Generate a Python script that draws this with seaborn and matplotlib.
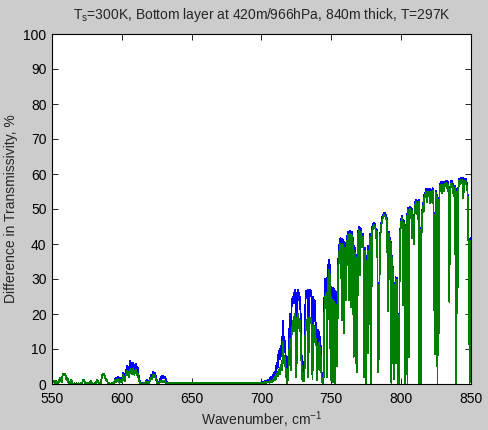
import numpy as np
import pandas as pd
import matplotlib
matplotlib.use("Agg")
import matplotlib.pyplot as plt
import seaborn as sns

# wavenumber grid, 0.5 cm-1 steps
wn = np.arange(550, 850.25, 0.5)

# green series (drawn on top), one row per 10 cm-1
green = [
    0.3, 0.8, 1.0, 0.6, 0.2, 0.5, 0.9, 0.4, 0.2, 0.3, 0.6, 1.5, 1.8, 1.0, 0.6, 2.2, 3.0, 2.8, 2.9, 2.6,  # 550
    2.2, 1.0, 1.8, 0.8, 0.3, 0.2, 0.5, 1.2, 0.9, 0.3, 0.1, 0.1, 0.2, 0.1, 0.1, 0.2, 0.1, 0.1, 0.2, 0.1,  # 560
    0.1, 0.2, 0.3, 0.2, 0.8, 1.2, 1.0, 0.4, 0.1, 0.1, 0.2, 0.1, 0.2, 0.3, 0.2, 0.6, 0.8, 0.3, 0.1, 0.1,  # 570
    0.1, 0.2, 0.3, 0.2, 0.9, 1.1, 0.5, 0.2, 0.1, 0.2, 0.4, 1.5, 2.5, 2.9, 2.6, 2.8, 2.0, 1.0, 1.5, 0.8,  # 580
    0.3, 0.2, 0.2, 0.1, 0.1, 0.2, 0.3, 0.2, 0.5, 0.2, 0.8, 1.2, 0.5, 1.0, 1.5, 0.8, 0.4, 1.2, 0.8, 0.5,  # 590
    0.6, 1.5, 2.5, 1.2, 0.8, 2.0, 3.0, 2.5, 3.8, 3.2, 2.0, 3.5, 4.2, 3.6, 2.8, 3.9, 4.4, 3.5, 2.6, 3.8,  # 600
    4.0, 3.2, 2.5, 3.0, 1.5, 0.8, 0.4, 0.2, 0.1, 0.1, 0.1, 0.1, 0.2, 0.1, 0.3, 0.5, 0.7, 0.4, 0.2, 0.3,  # 610
    0.8, 1.2, 1.8, 1.3, 2.0, 2.6, 2.2, 2.5, 1.8, 1.2, 0.6, 0.3, 0.2, 0.2, 0.4, 0.6, 0.8, 0.5, 0.7, 0.8,  # 620
    0.9, 0.6, 0.8, 0.4, 0.3, 0.2, 0.2, 0.3, 0.2, 0.2, 0.3, 0.2, 0.2, 0.3, 0.2, 0.2, 0.2, 0.3, 0.2, 0.2,  # 630
    0.3, 0.2, 0.3, 0.2, 0.3, 0.3, 0.2, 0.3, 0.2, 0.3, 0.3, 0.2, 0.3, 0.2, 0.3, 0.3, 0.2, 0.3, 0.2, 0.3,  # 640
    0.3, 0.2, 0.3, 0.3, 0.2, 0.3, 0.2, 0.3, 0.3, 0.2, 0.3, 0.2, 0.3, 0.3, 0.2, 0.3, 0.2, 0.3, 0.3, 0.2,  # 650
    0.3, 0.3, 0.2, 0.4, 0.3, 0.2, 0.3, 0.4, 0.3, 0.2, 0.3, 0.3, 0.2, 0.3, 0.2, 0.3, 0.3, 0.2, 0.3, 0.2,  # 660
    0.2, 0.3, 0.3, 0.2, 0.3, 0.2, 0.3, 0.3, 0.2, 0.3, 0.3, 0.2, 0.3, 0.2, 0.3, 0.3, 0.2, 0.3, 0.2, 0.3,  # 670
    0.3, 0.2, 0.3, 0.3, 0.2, 0.3, 0.2, 0.4, 0.3, 0.2, 0.3, 0.2, 0.3, 0.3, 0.2, 0.4, 0.3, 0.2, 0.3, 0.3,  # 680
    0.3, 0.2, 0.3, 0.4, 0.3, 0.2, 0.3, 0.3, 0.2, 0.4, 0.3, 0.3, 0.2, 0.3, 0.4, 0.3, 0.2, 0.3, 0.4, 0.3,  # 690
    0.3, 0.4, 0.4, 0.3, 0.3, 0.5, 0.4, 0.3, 0.5, 0.4, 0.6, 0.4, 0.8, 0.5, 1.0, 0.6, 1.2, 0.8, 1.5, 2.0,  # 700
    1.2, 2.5, 3.0, 2.2, 3.5, 4.0, 2.8, 4.5, 5.5, 4.0, 7.0, 12.0, 6.0, 7.8, 5.5, 3.0, 1.0, 0.3, 2.0, 6.0,  # 710
    10.0, 13.0, 4.0, 14.0, 16.0, 18.0, 15.0, 19.0, 20.0, 17.0, 2.0, 18.0, 20.0, 19.0, 16.0, 18.0, 14.0, 8.0, 1.5, 3.0,  # 720
    0.8, 1.0, 6.0, 15.0, 18.0, 17.0, 19.0, 2.0, 18.0, 19.0, 17.5, 18.5, 16.0, 1.5, 17.0, 15.0, 16.5, 12.0, 13.0, 10.0,  # 730
    1.0, 11.0, 9.0, 12.0, 4.0, 8.0, 2.0, 0.5, 0.3, 2.0, 20.0, 25.0, 24.0, 26.0, 2.0, 28.0, 31.0, 32.5, 30.0, 1.0,  # 740
    25.0, 23.0, 0.5, 24.0, 22.0, 0.3, 23.0, 21.0, 5.0, 20.0, 33.5, 36.0, 39.0, 40.0, 39.5, 18.3, 40.0, 38.5, 14.6, 39.0,  # 750
    37.3, 24.0, 38.5, 41.0, 42.5, 24.0, 42.0, 43.0, 22.0, 42.5, 41.0, 40.0, 7.8, 38.0, 36.4, 6.0, 36.0, 3.5, 40.0, 44.0,  # 760
    44.0, 31.0, 43.5, 42.0, 39.0, 42.0, 40.0, 2.0, 38.0, 36.4, 0.3, 30.0, 38.0, 8.8, 32.6, 40.0, 42.0, 0.3, 43.0, 44.0,  # 770
    45.0, 45.4, 44.5, 45.0, 41.7, 43.5, 36.0, 3.5, 8.8, 30.0, 42.0, 44.5, 46.0, 47.0, 47.5, 48.0, 48.3, 48.0, 47.5, 47.0,  # 780
    45.0, 20.7, 43.0, 30.0, 41.0, 40.0, 0.3, 36.0, 6.0, 33.0, 1.3, 13.5, 30.0, 6.0, 29.7, 0.3, 6.0, 0.3, 39.7, 44.0,  # 790
    46.0, 47.4, 47.0, 22.6, 46.0, 43.0, 0.3, 41.7, 48.0, 0.3, 49.7, 7.8, 49.5, 50.0, 47.4, 49.5, 41.7, 45.0, 40.0, 48.0,  # 800
    51.0, 52.0, 48.5, 51.5, 47.0, 52.0, 0.3, 44.0, 0.3, 41.7, 48.0, 51.0, 49.0, 53.0, 54.0, 53.5, 55.0, 52.0, 55.0, 54.5,  # 810
    55.0, 51.7, 55.0, 54.5, 52.0, 55.2, 54.0, 41.0, 8.5, 41.0, 54.6, 53.0, 0.3, 52.6, 14.5, 55.0, 56.5, 57.0, 54.5, 56.5,  # 820
    57.0, 55.0, 56.8, 57.2, 56.5, 57.4, 56.0, 57.0, 54.0, 23.5, 55.0, 56.5, 57.4, 57.0, 56.5, 54.0, 53.5, 56.0, 30.0, 0.3,  # 830
    55.0, 27.5, 56.0, 58.0, 57.0, 58.3, 58.0, 57.5, 58.2, 53.0, 57.5, 58.0, 57.0, 57.8, 56.5, 55.0, 41.0, 41.0, 0.3, 41.0,  # 840
    41.0,
]

# blue series, only where it rises above the green one
wn_blue_a = np.arange(595, 632.75, 0.5)
blue_a = [
    1.0, 1.6, 0.8, 1.5, 2.0, 1.2, 0.6, 1.8, 1.2, 0.8,  # 595
    0.8, 2.0, 3.2, 1.8, 1.2, 2.8, 4.0, 3.5, 5.2, 4.5, 3.0, 5.0, 6.6, 5.5, 4.2, 5.5, 6.0, 5.0, 3.8, 5.4,  # 600
    5.8, 5.0, 4.2, 4.6, 2.5, 1.2, 0.6, 0.3, 0.2, 0.2, 0.2, 0.2, 0.3, 0.2, 0.5, 0.9, 1.2, 0.8, 0.4, 0.6,  # 610
    1.2, 1.8, 2.5, 2.0, 2.8, 3.5, 3.0, 3.3, 2.6, 1.8, 1.0, 0.5, 0.3, 0.3, 0.8, 1.4, 2.0, 1.5, 2.3, 2.0,  # 620
    2.2, 1.6, 2.0, 1.2, 0.6, 0.3,  # 630
]

wn_blue_b = np.arange(700, 850.25, 0.5)
blue_b = [
    0.4, 0.5, 0.6, 0.5, 0.5, 0.8, 0.7, 0.6, 1.0, 0.8, 1.2, 0.9, 1.6, 1.2, 2.0, 1.4, 2.5, 2.0, 3.0, 3.5,  # 700
    2.5, 5.0, 6.0, 4.5, 8.0, 9.5, 7.0, 10.0, 11.0, 8.0, 14.0, 18.0, 11.0, 12.6, 10.0, 6.0, 2.0, 0.6, 4.0, 11.0,  # 710
    16.0, 20.0, 8.0, 22.0, 24.0, 25.0, 23.0, 26.0, 27.0, 26.0, 5.0, 25.5, 27.0, 26.5, 24.0, 25.0, 20.0, 12.0, 2.5, 5.0,  # 720
    1.2, 2.0, 12.0, 24.0, 26.5, 25.5, 27.0, 4.0, 26.0, 27.0, 25.0, 26.5, 24.0, 3.0, 25.0, 23.0, 24.0, 18.0, 17.0, 15.0,  # 730
    2.0, 15.5, 13.0, 15.0, 7.0, 11.0, 3.5, 1.0, 0.5, 4.0, 24.0, 30.0, 29.5, 30.2, 3.0, 32.0, 34.5, 35.4, 33.0, 2.0,  # 740
    27.8, 27.0, 1.0, 27.5, 26.0, 0.5, 26.5, 25.0, 7.0, 24.0, 35.4, 38.0, 41.0, 41.6, 41.0, 20.0, 41.5, 40.5, 16.0, 40.5,  # 750
    39.7, 25.0, 40.0, 42.5, 43.5, 25.0, 43.0, 43.8, 23.0, 43.5, 42.0, 41.5, 8.0, 39.5, 38.0, 6.5, 37.0, 4.0, 41.0, 44.6,  # 760
    44.8, 32.0, 44.5, 43.0, 40.5, 43.0, 41.0, 2.5, 39.0, 37.5, 0.5, 31.0, 39.5, 9.0, 33.5, 41.0, 43.0, 0.5, 44.0, 45.2,  # 770
    45.6, 46.0, 45.2, 45.6, 42.3, 44.2, 36.6, 3.8, 9.2, 30.6, 42.6, 45.2, 46.7, 47.7, 48.2, 48.7, 49.0, 48.7, 48.2, 47.7,  # 780
    45.7, 21.2, 43.6, 30.5, 41.7, 40.6, 0.5, 36.6, 6.4, 33.6, 1.6, 14.0, 30.6, 6.4, 30.3, 0.5, 6.4, 0.5, 40.3, 44.7,  # 790
    46.7, 48.1, 47.7, 23.2, 46.7, 43.6, 0.5, 42.3, 48.7, 0.5, 50.4, 8.2, 50.2, 50.7, 48.1, 50.2, 42.3, 45.7, 40.6, 48.7,  # 800
    51.7, 52.7, 49.2, 52.2, 47.7, 52.7, 0.5, 44.7, 0.5, 42.3, 48.7, 51.7, 49.7, 53.7, 54.7, 54.2, 55.7, 52.7, 55.7, 55.2,  # 810
    55.7, 52.4, 55.7, 55.2, 52.7, 55.9, 54.7, 41.6, 8.9, 41.6, 55.3, 53.7, 0.5, 53.3, 15.0, 55.7, 57.2, 57.7, 55.2, 57.2,  # 820
    57.7, 55.7, 57.5, 57.9, 57.2, 58.1, 56.7, 57.7, 54.7, 24.0, 55.7, 57.2, 58.1, 57.7, 57.2, 54.7, 54.2, 56.7, 30.5, 0.5,  # 830
    55.7, 28.0, 56.7, 58.7, 57.7, 59.0, 58.7, 58.2, 58.9, 53.7, 58.2, 58.7, 57.7, 58.5, 57.2, 55.7, 41.6, 41.6, 0.5, 41.6,  # 840
    41.6,
]

x_ticks = [550, 600, 650, 700, 750, 800, 850]
y_ticks = list(range(0, 101, 10))

sns.set_style("ticks")
plt.rcParams['font.family'] = ['Liberation Sans', 'DejaVu Sans']
plt.rcParams['mathtext.fontset'] = 'custom'
plt.rcParams['mathtext.rm'] = 'Liberation Sans'
plt.rcParams['mathtext.it'] = 'Liberation Sans'

fig = plt.figure(figsize=(4.89, 4.30), dpi=100, facecolor='#cccccc')
ax = fig.add_axes([52 / 489, 46 / 430, 419 / 489, 350 / 430])
ax.set_facecolor('white')

df_green = pd.DataFrame({'wn': wn, 'val': green})
df_blue_a = pd.DataFrame({'wn': wn_blue_a, 'val': blue_a})
df_blue_b = pd.DataFrame({'wn': wn_blue_b, 'val': blue_b})

for d in (df_blue_a, df_blue_b):
    sns.lineplot(data=d, x='wn', y='val', color='#0000ff', linewidth=0.6,
                 estimator=None, sort=False, ax=ax, antialiased=False)
sns.lineplot(data=df_green, x='wn', y='val', color='#008000', linewidth=0.6,
             estimator=None, sort=False, ax=ax, antialiased=False)

ax.set_xlim(550, 850)
ax.set_ylim(0, 100)
ax.set_xticks(x_ticks)
ax.set_yticks(y_ticks)
ax.tick_params(direction='in', length=4, width=0.6, top=True, right=True,
               labelsize=10, colors='black')
ax.tick_params(axis='x', pad=6)
ax.tick_params(axis='y', pad=4)
for s in ax.spines.values():
    s.set_visible(True)
    s.set_linewidth(0.8)
    s.set_color('black')

ax.set_title('T$_{\\mathrm{s}}$=300K, Bottom layer at 420m/966hPa, 840m thick, T=297K',
             fontsize=10, pad=11)
ax.set_xlabel('Wavenumber, cm$^{-1}$', fontsize=10, labelpad=2)
ax.set_ylabel('Difference in Transmissivity, %', fontsize=10, labelpad=4)

fig.savefig('out.png', dpi=100, facecolor=fig.get_facecolor())
